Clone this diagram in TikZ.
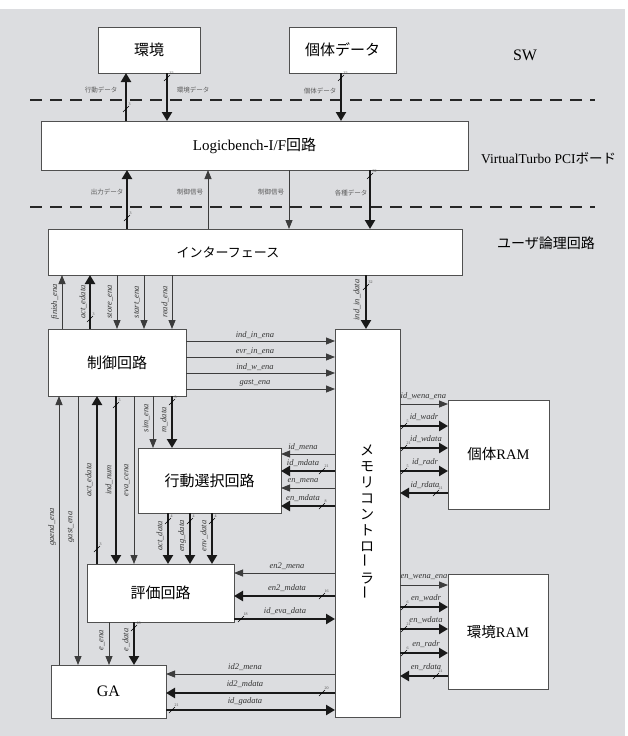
\documentclass[tikz,border=0pt]{standalone}
\usepackage{fontspec}
\setmainfont{Liberation Serif}
\newfontfamily\jp{Noto Sans CJK JP}
\usetikzlibrary{arrows.meta}
\definecolor{bg}{RGB}{220,221,224}
\definecolor{ln}{RGB}{60,60,60}
\definecolor{bx}{RGB}{80,80,80}
\definecolor{lbl}{RGB}{90,90,90}
\tikzset{
 box/.style={draw=bx, line width=0.9pt, fill=white, inner sep=0pt, outer sep=0pt, anchor=north west},
 big/.style={font=\jp\fontsize{15}{15}\selectfont},
 sig/.style={draw=ln, line width=0.8pt, -{Triangle[length=9pt,width=7pt]}},
 bus/.style={draw=black!90, line width=2.8pt, -{Triangle[length=9pt,width=10pt]}},
 sl/.style={font=\fontsize{8.5}{9}\selectfont\itshape, inner sep=0.5pt, text=black!80},
 jl/.style={font=\jp\fontsize{6.5}{7}\selectfont, text=lbl, inner sep=0.5pt},
 bw/.style={font=\fontsize{4}{4}\selectfont, inner sep=0pt, text=black!70},
 mk/.style={draw=black, line width=0.6pt},
 dsh/.style={draw=black!85, line width=1.8pt, dash pattern=on 12pt off 8pt},
}
\newcommand\bwmark[3]{\draw[mk] (#1-3,#2+3) -- (#1+3,#2-3); \node[bw,anchor=south west] at (#1+2.5,#2-3) {#3};}
\begin{document}
\begin{tikzpicture}[x=1pt,y=-1pt]
\useasboundingbox (0,0) rectangle (628,736);
\fill[bg] (0,9) rectangle (625,736);
\draw[dsh] (30,100) -- (595,100);
\draw[dsh] (30,207) -- (595,207);
% boxes
\node[box,minimum width=102pt,minimum height=46pt,big] (env) at (98,27) {環境};
\node[box,minimum width=107pt,minimum height=46pt,big] (indv) at (289,27) {個体データ};
\node[box,minimum width=427pt,minimum height=49pt,font=\fontsize{15}{15}\selectfont] (lb) at (41,121) {Logicbench-I/F{\jp 回路}};
\node[box,minimum width=414pt,minimum height=46pt] (intf) at (48,229) {};
\node[font=\jp\fontsize{13}{13}\selectfont] at (228,252) {インターフェース};
\node[box,minimum width=138pt,minimum height=67pt,big] (ctrl) at (48,329) {制御回路};
\node[box,minimum width=65pt,minimum height=388pt] (mem) at (335,329) {};
\node[font=\jp\fontsize{14}{16}\selectfont,align=center] at (367,522) {メ\\モ\\リ\\コ\\ン\\ト\\ロ\\\rotatebox{90}{ー}\\ラ\\\rotatebox{90}{ー}};
\node[box,minimum width=101pt,minimum height=109pt,font=\fontsize{14.5}{15}\selectfont] (iram) at (448,400) {{\jp 個体}RAM};
\node[box,minimum width=100pt,minimum height=115pt,font=\fontsize{14.5}{15}\selectfont] (eram) at (448,574) {{\jp 環境}RAM};
\node[box,minimum width=143pt,minimum height=65pt,big] (act) at (138,448) {行動選択回路};
\node[box,minimum width=147pt,minimum height=58pt,big] (eva) at (87,564) {評価回路};
\node[box,minimum width=115pt,minimum height=53pt,font=\fontsize{16}{16}\selectfont] (ga) at (51,665) {GA};
% side labels
\node[font=\fontsize{16}{16}\selectfont] at (525,55) {SW};
\node[anchor=west,inner sep=0pt,font=\fontsize{13.5}{14}\selectfont] at (481,158) {VirtualTurbo PCI{\jp ボード}};
\node[anchor=west,inner sep=0pt,font=\jp\fontsize{14}{14}\selectfont] at (497,243) {ユーザ論理回路};
% top
\draw[bus] (lb.north -| 126,0) -- (env.south -| 126,0);
\bwmark{126}{109}{3}
\node[jl] at (101,90) {行動データ};
\draw[bus] (env.south -| 167,0) -- (lb.north -| 167,0);
\bwmark{167}{78}{32}
\node[jl] at (193,90) {環境データ};
\draw[bus] (indv.south -| 341,0) -- (lb.north -| 341,0);
\bwmark{341}{78}{32}
\node[jl] at (320,91) {個体データ};
% middle
\draw[bus] (intf.north -| 127,0) -- (lb.south -| 127,0);
\bwmark{127}{218}{3}
\node[jl] at (107,192) {出力データ};
\draw[sig] (intf.north -| 208,0) -- (lb.south -| 208,0);
\node[jl] at (190,192) {制御信号};
\draw[sig] (lb.south -| 289,0) -- (intf.north -| 289,0);
\node[jl] at (271,192) {制御信号};
\draw[bus] (lb.south -| 370,0) -- (intf.north -| 370,0);
\bwmark{370}{176}{32}
\node[jl] at (351,193) {各種データ};
% interface - control
\draw[sig] (ctrl.north -| 62,0) -- (intf.south -| 62,0);
\node[sl,rotate=90] at (55,302) {finish\_ena};
\draw[bus] (ctrl.north -| 90,0) -- (intf.south -| 90,0);
\bwmark{90}{319}{3}
\node[sl,rotate=90] at (83,302) {act\_edata};
\draw[sig] (intf.south -| 117,0) -- (ctrl.north -| 117,0);
\node[sl,rotate=90] at (110,302) {store\_ena};
\draw[sig] (intf.south -| 144,0) -- (ctrl.north -| 144,0);
\node[sl,rotate=90] at (137,302) {start\_ena};
\draw[sig] (intf.south -| 172,0) -- (ctrl.north -| 172,0);
\node[sl,rotate=90] at (165,302) {read\_ena};
% interface - memory
\draw[bus] (intf.south -| 366,0) -- (mem.north -| 366,0);
\bwmark{366}{287}{32}
\node[sl,rotate=90] at (357,300) {ind\_in\_data};
% control - memory
\draw[sig] (ctrl.east |- 0,341) -- (mem.west |- 0,341);
\node[sl] at (255,335) {ind\_in\_ena};
\draw[sig] (ctrl.east |- 0,357) -- (mem.west |- 0,357);
\node[sl] at (255,351) {evr\_in\_ena};
\draw[sig] (ctrl.east |- 0,373) -- (mem.west |- 0,373);
\node[sl] at (255,367) {ind\_w\_ena};
\draw[sig] (ctrl.east |- 0,389) -- (mem.west |- 0,389);
\node[sl] at (255,383) {gast\_ena};
% control bottom
\draw[sig] (ga.north -| 59,0) -- (ctrl.south -| 59,0);
\node[sl,rotate=90] at (52,527) {gaend\_ena};
\draw[sig] (ctrl.south -| 78,0) -- (ga.north -| 78,0);
\node[sl,rotate=90] at (71,527) {gast\_ena};
\draw[bus] (eva.north -| 97,0) -- (ctrl.south -| 97,0);
\bwmark{97}{549}{3}
\node[sl,rotate=90] at (89,480) {act\_edata};
\draw[bus] (ctrl.south -| 116,0) -- (eva.north -| 116,0);
\bwmark{116}{405}{5}
\node[sl,rotate=90] at (109,480) {ind\_num};
\draw[sig] (ctrl.south -| 134,0) -- (eva.north -| 134,0);
\node[sl,rotate=90] at (127,480) {eva\_cena};
\draw[sig] (ctrl.south -| 153,0) -- (act.north -| 153,0);
\node[sl,rotate=90] at (146,418) {sim\_ena};
\draw[bus] (ctrl.south -| 172,0) -- (act.north -| 172,0);
\bwmark{172}{402}{5}
\node[sl,rotate=90] at (164,420) {m\_data};
% action - eval
\draw[bus] (act.south -| 168,0) -- (eva.north -| 168,0);
\bwmark{168}{521}{4}
\node[sl,rotate=90] at (160,536) {act\_data};
\draw[bus] (act.south -| 190,0) -- (eva.north -| 190,0);
\bwmark{190}{521}{4}
\node[sl,rotate=90] at (182,536) {eng\_data};
\draw[bus] (act.south -| 212,0) -- (eva.north -| 212,0);
\bwmark{212}{521}{4}
\node[sl,rotate=90] at (204,536) {env\_data};
% memory - action
\draw[sig] (mem.west |- 0,454) -- (act.east |- 0,454);
\node[sl] at (303,447) {id\_mena};
\draw[bus] (mem.west |- 0,471) -- (act.east |- 0,471);
\bwmark{322}{471}{21}
\node[sl] at (303,463) {id\_mdata};
\draw[sig] (mem.west |- 0,488) -- (act.east |- 0,488);
\node[sl] at (303,481) {en\_mena};
\draw[bus] (mem.west |- 0,506) -- (act.east |- 0,506);
\bwmark{322}{506}{8}
\node[sl] at (303,498) {en\_mdata};
% memory - eval
\draw[sig] (mem.west |- 0,573) -- (eva.east |- 0,573);
\node[sl] at (287,566) {en2\_mena};
\draw[bus] (mem.west |- 0,596) -- (eva.east |- 0,596);
\bwmark{322}{596}{16}
\node[sl] at (287,588) {en2\_mdata};
\draw[bus] (eva.east |- 0,619) -- (mem.west |- 0,619);
\bwmark{241}{619}{18}
\node[sl] at (285,611) {id\_eva\_data};
% eval - GA
\draw[sig] (eva.south -| 109,0) -- (ga.north -| 109,0);
\node[sl,rotate=90] at (102,640) {e\_ena};
\draw[bus] (eva.south -| 134,0) -- (ga.north -| 134,0);
\bwmark{134}{628}{18}
\node[sl,rotate=90] at (126,640) {e\_data};
% memory - GA
\draw[sig] (mem.west |- 0,674) -- (ga.east |- 0,674);
\node[sl] at (245,667) {id2\_mena};
\draw[bus] (mem.west |- 0,693) -- (ga.east |- 0,693);
\bwmark{322}{693}{20}
\node[sl] at (245,684) {id2\_mdata};
\draw[bus] (ga.east |- 0,710) -- (mem.west |- 0,710);
\bwmark{172}{710}{21}
\node[sl] at (245,701) {id\_gadata};
% memory - individual RAM
\draw[sig] (mem.east |- 0,404) -- (iram.west |- 0,404);
\node[sl,anchor=west] at (400,396) {id\_wena\_ena};
\draw[bus] (mem.east |- 0,426) -- (iram.west |- 0,426);
\bwmark{404}{426}{5}
\node[sl] at (424,417) {id\_wadr};
\draw[bus] (mem.east |- 0,448) -- (iram.west |- 0,448);
\bwmark{404}{448}{21}
\node[sl] at (426,439) {id\_wdata};
\draw[bus] (mem.east |- 0,471) -- (iram.west |- 0,471);
\bwmark{404}{471}{5}
\node[sl] at (425,462) {id\_radr};
\draw[bus] (iram.west |- 0,493) -- (mem.east |- 0,493);
\bwmark{436}{493}{21}
\node[sl] at (425,485) {id\_rdata};
% memory - environment RAM
\draw[sig] (mem.east |- 0,585) -- (eram.west |- 0,585);
\node[sl,anchor=west] at (400,577) {en\_wena\_ena};
\draw[bus] (mem.east |- 0,607) -- (eram.west |- 0,607);
\bwmark{404}{607}{6}
\node[sl] at (426,598) {en\_wadr};
\draw[bus] (mem.east |- 0,629) -- (eram.west |- 0,629);
\bwmark{404}{629}{21}
\node[sl] at (426,620) {en\_wdata};
\draw[bus] (mem.east |- 0,653) -- (eram.west |- 0,653);
\bwmark{404}{653}{6}
\node[sl] at (426,644) {en\_radr};
\draw[bus] (eram.west |- 0,676) -- (mem.east |- 0,676);
\bwmark{436}{676}{21}
\node[sl] at (426,667) {en\_rdata};
\end{tikzpicture}
\end{document}
